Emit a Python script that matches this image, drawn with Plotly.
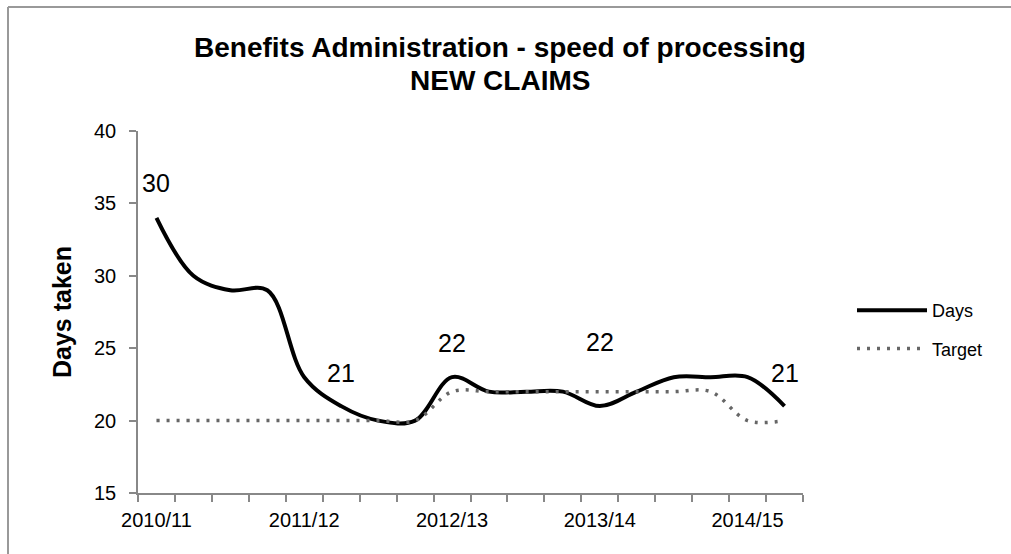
import plotly.graph_objects as go

categories = ["2010/11 Q1", "2010/11 Q2", "2010/11 Q3", "2010/11 Q4",
              "2011/12 Q1", "2011/12 Q2", "2011/12 Q3", "2011/12 Q4",
              "2012/13 Q1", "2012/13 Q2", "2012/13 Q3", "2012/13 Q4",
              "2013/14 Q1", "2013/14 Q2", "2013/14 Q3", "2013/14 Q4",
              "2014/15 Q1", "2014/15 Q2"]
days = [34, 30, 29, 29, 23, 21, 20, 20, 23, 22, 22, 22, 21, 22, 23, 23, 23, 21]
target = [20, 20, 20, 20, 20, 20, 20, 20, 22, 22, 22, 22, 22, 22, 22, 22, 20, 20]
tick_labels = ["2010/11", "2011/12", "2012/13", "2013/14", "2014/15"]
tick_idx = [0, 4, 8, 12, 16]
note_text = ["30", "21", "22", "22", "21"]
note_idx = [0, 5, 8, 12, 17]
note_y = [36.4, 23.3, 25.35, 25.4, 23.3]

FONT = "Liberation Sans, Arial"
W, H = 1011, 554
L, R, T, B = 138, 208, 131, 61
xs = list(range(len(categories)))

fig = go.Figure()
fig.add_trace(go.Scatter(x=xs, y=days, name="Days", mode="lines", legendgroup="d",
                         line=dict(color="black", width=4, shape="spline", smoothing=1.0),
                         customdata=categories))
fig.add_trace(go.Scatter(x=xs, y=target, name="Target", mode="lines", legendgroup="t",
                         line=dict(color="#666666", width=3.5, shape="spline", smoothing=1.0,
                                   dash="3px,7px"),
                         customdata=categories))

for t, i, y in zip(note_text, note_idx, note_y):
    fig.add_annotation(x=i, y=y, text=t, showarrow=False,
                       font=dict(size=25, color="black", family=FONT))

pw, ph = W - L - R, H - T - B
def px2paper_x(p):
    return (p - L) / pw
def px2paper_y(p):
    return (H - B - p) / ph

fig.add_shape(type="line", xref="paper", yref="paper",
              x0=px2paper_x(8), x1=px2paper_x(W + 5), y0=px2paper_y(7), y1=px2paper_y(7),
              line=dict(color="#999999", width=2))
fig.add_shape(type="line", xref="paper", yref="paper",
              x0=px2paper_x(8), x1=px2paper_x(8), y0=px2paper_y(7), y1=px2paper_y(H + 5),
              line=dict(color="#999999", width=2))

fig.add_annotation(xref="paper", yref="paper", x=px2paper_x(500), y=px2paper_y(80),
                   xanchor="center", yanchor="middle", showarrow=False,
                   text="<b>NEW CLAIMS</b>",
                   font=dict(size=28, color="black", family=FONT))

fig.update_layout(
    width=W, height=H,
    margin=dict(l=L, r=R, t=T, b=B),
    paper_bgcolor="white", plot_bgcolor="white",
    font=dict(family=FONT, color="black"),
    title=dict(text="<b>Benefits Administration - speed of processing</b>",
               x=px2paper_x(500), xref="paper", xanchor="center",
               y=1 - 47 / H, yanchor="middle",
               font=dict(size=28, color="black", family=FONT)),
    showlegend=True,
    legend=dict(x=px2paper_x(852), y=px2paper_y(292), xanchor="left", yanchor="top",
                font=dict(size=18, color="black", family=FONT), tracegroupgap=12,
                itemwidth=70, bgcolor="rgba(0,0,0,0)"),
    xaxis=dict(range=[-0.5, len(categories) - 0.5], showgrid=False, zeroline=False,
               tickvals=tick_idx, ticktext=tick_labels, ticks="",
               showline=True, linecolor="#888888", linewidth=1.5,
               tickfont=dict(size=20, color="black", family=FONT),
               ticklabelstandoff=8,
               minor=dict(tickvals=[i - 0.5 for i in range(len(categories) + 1)],
                          ticks="outside", ticklen=7, tickcolor="#888888", tickwidth=1.5)),
    yaxis=dict(range=[15, 40], dtick=5, showgrid=False, zeroline=False,
               showline=True, linecolor="#888888", linewidth=1.5,
               ticks="outside", ticklen=7, tickcolor="#888888", tickwidth=1.5,
               tickfont=dict(size=20, color="black", family=FONT),
               ticklabelstandoff=9,
               title=dict(text="<b>Days taken</b>", font=dict(size=25, color="black", family=FONT),
                          standoff=15)),
)

fig.write_html("out.html")
